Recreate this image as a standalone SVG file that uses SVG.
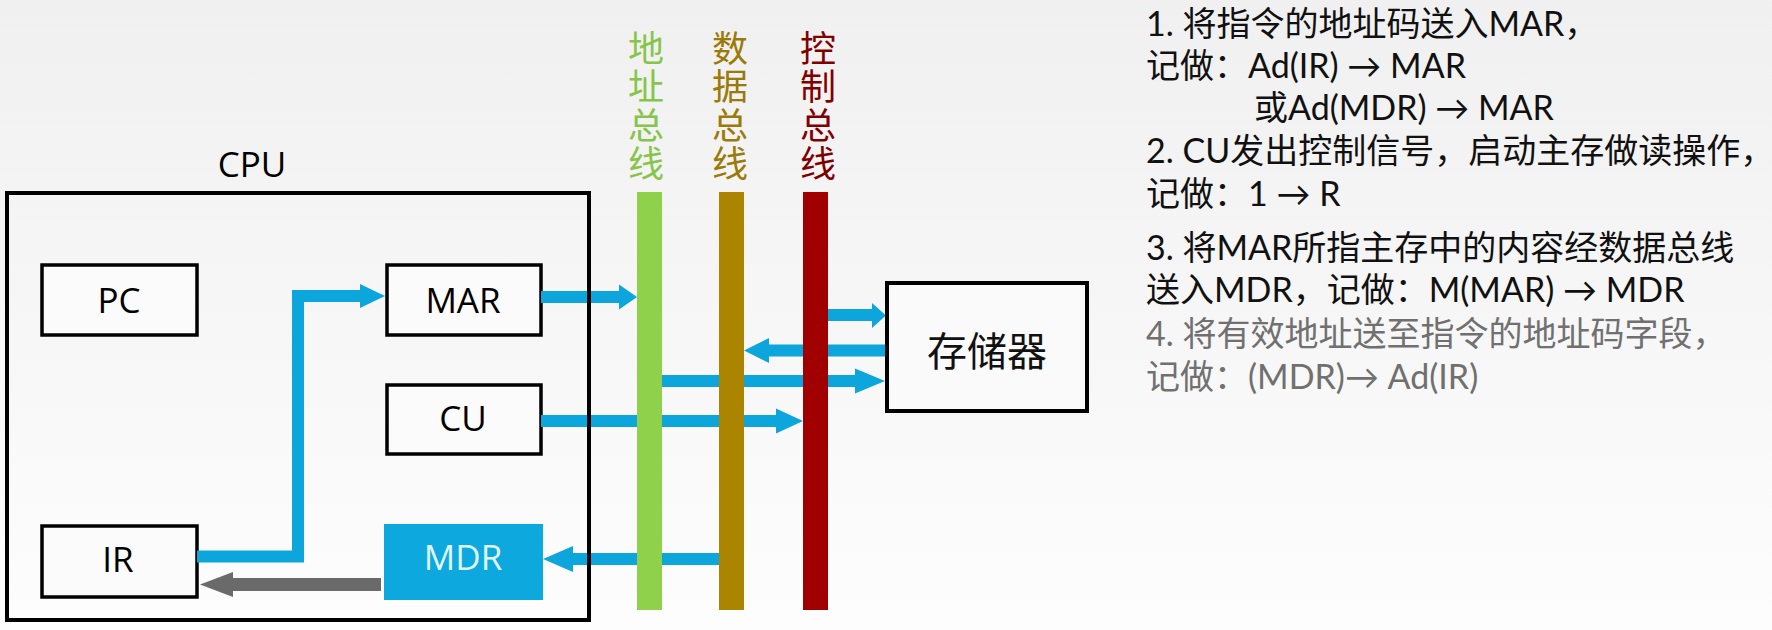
<svg xmlns="http://www.w3.org/2000/svg" width="1772" height="630" viewBox="0 0 1772 630">
  <defs>
    <linearGradient id="bg" x1="0" y1="0" x2="0" y2="1">
      <stop offset="0" stop-color="#f0f0f0"/>
      <stop offset="1" stop-color="#fdfdfd"/>
    </linearGradient>
    <style>
      .box { fill: #fbfbfb; stroke: #000; stroke-width: 3.5; }
      .lbl { font-family: "Open Sans", "Liberation Sans", sans-serif; font-size: 35px; fill: #000; text-anchor: middle; }
      .arr { fill: #0ca6dc; }
      .shaft { fill: none; stroke: #0ca6dc; stroke-width: 12; stroke-linejoin: miter; }
      .bus-t { font-family: "Noto Sans CJK SC", sans-serif; font-size: 36px; writing-mode: vertical-rl; letter-spacing: 2.5px; }
      .note { font-family: Lato, "Noto Sans CJK SC", sans-serif; font-size: 34px; fill: #111; }
      .note-g { fill: #707070; }
    </style>
  </defs>
  <rect x="0" y="0" width="1772" height="630" fill="url(#bg)"/>

  <g id="pc">
    <rect class="box" x="42" y="265" width="155" height="70"/>
    <text class="lbl" x="119" y="313">PC</text>
  </g>
  <g id="mar">
    <rect class="box" x="387" y="265" width="154" height="70"/>
    <text class="lbl" x="463" y="313">MAR</text>
  </g>
  <g id="cu">
    <rect class="box" x="387" y="385" width="154" height="69"/>
    <text class="lbl" x="463" y="431">CU</text>
  </g>
  <g id="ir">
    <rect class="box" x="42" y="526" width="155" height="71"/>
    <text class="lbl" x="118" y="572">IR</text>
  </g>
  <g id="mdr">
    <rect x="384" y="524" width="159" height="76" fill="#0ca8de"/>
    <text class="lbl" x="463" y="570" style="fill:#dff6ff">MDR</text>
  </g>

  <g id="connectors">
    <path class="shaft" d="M197 556.5 H298 V296 H362"/>
    <polygon class="arr" points="360,284 385,296 360,308"/>
    <path class="shaft" d="M541 297 H620"/>
    <polygon class="arr" points="619,284.5 637,297 619,309.5"/>
    <path class="shaft" d="M541 421 H777"/>
    <polygon class="arr" points="776,408.5 803,421 776,433.5"/>
    <path class="shaft" d="M719 559 H572"/>
    <polygon class="arr" points="573,546 543,559 573,572"/>
    <path d="M381 584.5 H232" fill="none" stroke="#6a6a6a" stroke-width="13"/>
    <polygon fill="#6a6a6a" points="233,572 200,584.5 233,597"/>
    <path class="shaft" d="M828 315 H873"/>
    <polygon class="arr" points="872,303 886,315.5 872,328"/>
    <path class="shaft" d="M887 350.5 H768"/>
    <polygon class="arr" points="769,338 744,350.5 769,363"/>
    <path class="shaft" d="M662 381 H856"/>
    <polygon class="arr" points="855,368.5 885,381 855,393.5"/>
  </g>

  <g id="cpu">
    <rect x="7" y="193" width="582" height="427" fill="none" stroke="#000" stroke-width="4"/>
    <text x="252" y="177" class="lbl" font-size="33">CPU</text>
  </g>

  <g id="address-bus">
    <rect x="637" y="192" width="25" height="418" fill="#8fd14a"/>
    <text class="bus-t" x="646" y="30" fill="#86c54a">地址总线</text>
  </g>
  <g id="data-bus">
    <rect x="719" y="192" width="25" height="418" fill="#ab8500"/>
    <text class="bus-t" x="730" y="30" fill="#9a7a08">数据总线</text>
  </g>
  <g id="control-bus">
    <rect x="803" y="192" width="25" height="418" fill="#a00000"/>
    <text class="bus-t" x="818" y="30" fill="#800000">控制总线</text>
  </g>

  <g id="memory">
    <rect x="887" y="283" width="200" height="128" fill="#fafafa" stroke="#000" stroke-width="4"/>
    <text x="987" y="366" font-family="Noto Sans CJK SC, sans-serif" font-size="40" text-anchor="middle" fill="#111">存储器</text>
  </g>

  <g id="notes">
    <text class="note"><tspan x="1146" y="36">1. 将指令的地址码送入MAR，</tspan><tspan x="1146" y="78">记做：Ad(IR) → MAR</tspan><tspan x="1254" y="120">或Ad(MDR) → MAR</tspan><tspan x="1146" y="163">2. CU发出控制信号，启动主存做读操作，</tspan><tspan x="1146" y="206">记做：1 → R</tspan><tspan x="1146" y="260">3. 将MAR所指主存中的内容经数据总线</tspan><tspan x="1146" y="302">送入MDR，记做：M(MAR) → MDR</tspan><tspan x="1146" y="346" class="note-g">4. 将有效地址送至指令的地址码字段，</tspan><tspan x="1146" y="389" class="note-g">记做：(MDR)→ Ad(IR)</tspan></text>
  </g>
</svg>
